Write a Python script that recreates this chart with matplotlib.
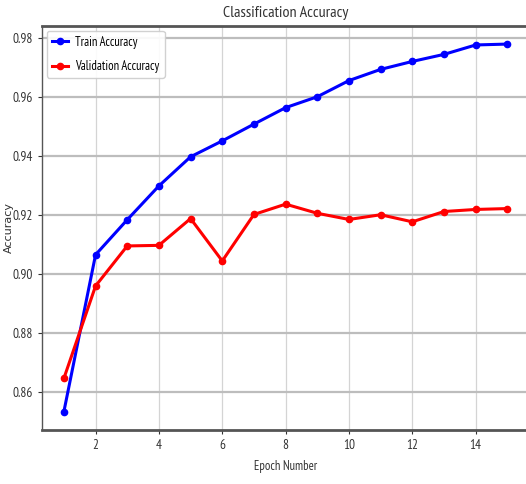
import matplotlib
matplotlib.use("Agg")
import matplotlib.pyplot as plt

# Dados
epocas = list(range(1, 16))
acc_treino = [0.8532, 0.9065, 0.9184, 0.9299, 0.9398, 0.9452, 0.9509, 0.9565,
              0.9602, 0.9657, 0.9695, 0.9722, 0.9746, 0.9778, 0.9781]
acc_validacao = [0.8645, 0.8959, 0.9095, 0.9097, 0.9188, 0.9044, 0.9202, 0.9237,
                 0.9206, 0.9185, 0.9201, 0.9177, 0.9212, 0.9219, 0.9222]

fonte = "PT Sans Narrow"

fig = plt.figure(figsize=(5.26, 4.84), dpi=100)
ax = fig.add_axes([0.0793, 0.1116, 0.9274, 0.8353])

ax.plot(epocas, acc_treino, color="blue", marker="o", markersize=4.5, linewidth=2.2,
        label="Train Accuracy")
ax.plot(epocas, acc_validacao, color="red", marker="o", markersize=4.5, linewidth=2.2,
        label="Validation Accuracy")

ax.set_xticks([2, 4, 6, 8, 10, 12, 14])
ax.set_yticks([0.86, 0.88, 0.90, 0.92, 0.94, 0.96, 0.98])
ax.set_yticklabels(["0.86", "0.88", "0.90", "0.92", "0.94", "0.96", "0.98"])

ax.yaxis.grid(True, color="#bdbdbd", linewidth=1.6)
ax.xaxis.grid(True, color="#d4d4d4", linewidth=0.9)
ax.set_axisbelow(True)

for lado in ["top", "bottom"]:
    ax.spines[lado].set_color("#555555")
    ax.spines[lado].set_linewidth(2)
ax.spines["left"].set_color("#555555")
ax.spines["left"].set_linewidth(1)

ax.tick_params(axis="both", colors="#333333", labelsize=9.5, length=3)
for rotulo in ax.get_xticklabels() + ax.get_yticklabels():
    rotulo.set_fontfamily(fonte)

ax.set_title("Classification Accuracy", fontfamily=fonte, fontsize=11.5,
             color="#333333", pad=6)
ax.set_xlabel("Epoch Number", fontfamily=fonte, fontsize=9,
              color="#333333", labelpad=6)
ax.set_ylabel("Accuracy", fontfamily="DejaVu Sans", fontsize=8, color="#333333")
ax.yaxis.set_label_coords(-0.058, 0.5)

ax.legend(loc="upper left", prop={"family": fonte, "size": 9}, handlelength=1.3,
          handletextpad=0.6, labelspacing=0.9, borderaxespad=0.4, framealpha=0.9)

fig.savefig("out.png", dpi=100)
